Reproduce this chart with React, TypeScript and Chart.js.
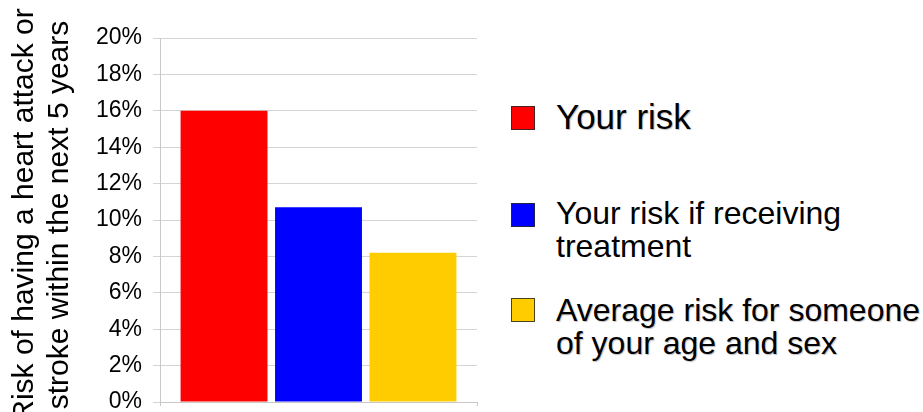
import React, { useEffect, useRef } from "react";
import { Chart, registerables } from "chart.js";

Chart.register(...registerables);

const categories = [""];
const seriesLabels = [
  "Your risk",
  "Your risk if receiving treatment",
  "Average risk for someone of your age and sex",
];
const seriesValues = [16, 10.7, 8.2];
const seriesColors = ["#ff0000", "#0000ff", "#ffcc00"];
const yMin = 0;
const yMax = 20;
const yStep = 2;
const yTitleLines = ["Risk of having a heart attack or", "stroke within the next 5 years"];
const legendLines = [
  ["Your risk"],
  ["Your risk if receiving", "treatment"],
  ["Average risk for someone", "of your age and sex"],
];

const FONT = "'Liberation Sans', Arial, Helvetica, sans-serif";

const legendLayout = [
  { top: 97.4, fontSize: 35, lineHeight: 40, boxTop: 106, shadow: true },
  { top: 197.4, fontSize: 32, lineHeight: 33, boxTop: 202.5, shadow: false },
  { top: 294.4, fontSize: 32, lineHeight: 33, boxTop: 298, shadow: true },
];

const yTitlePlugin = {
  id: "yTitleTwoLines",
  afterDraw(chart: any) {
    const ctx = chart.ctx;
    ctx.save();
    ctx.font = `30px ${FONT}`;
    ctx.fillStyle = "#000000";
    ctx.textAlign = "center";
    ctx.textBaseline = "alphabetic";
    ctx.translate(33, 215);
    ctx.rotate(-Math.PI / 2);
    yTitleLines.forEach((line, i) => ctx.fillText(line, 0, i * 35));
    ctx.restore();
  },
};

export default function App() {
  const canvasRef = useRef<HTMLCanvasElement | null>(null);

  useEffect(() => {
    if (!canvasRef.current) return;
    const chart = new Chart(canvasRef.current, {
      type: "bar",
      data: {
        labels: categories,
        datasets: seriesLabels.map((label, i) => ({
          label,
          data: [seriesValues[i]],
          backgroundColor: seriesColors[i],
          borderWidth: 0,
          categoryPercentage: 0.894,
          barPercentage: 0.92,
        })),
      },
      options: {
        animation: false,
        responsive: true,
        maintainAspectRatio: false,
        layout: { padding: { top: 38, right: 13, left: 0, bottom: 0 } },
        plugins: {
          legend: { display: false },
          tooltip: { enabled: false },
          title: { display: false },
        },
        scales: {
          x: {
            ticks: { display: false },
            grid: {
              drawOnChartArea: false,
              drawTicks: true,
              tickLength: 4,
              color: "#c8c8c8",
            },
            border: { color: "#c8c8c8" },
            afterFit(scale: any) {
              scale.height = 10;
            },
          },
          y: {
            min: yMin,
            max: yMax,
            ticks: {
              stepSize: yStep,
              padding: 11,
              color: "#000000",
              font: { family: FONT, size: 23 },
              callback: (v: any) => `${v}%`,
            },
            grid: {
              color: "#d4d4d4",
              tickLength: 7,
              drawTicks: true,
            },
            border: { color: "#c8c8c8" },
            afterFit(scale: any) {
              scale.width = 160;
              scale.paddingBottom = 0;
              scale.paddingTop = 0;
            },
          },
        },
      },
      plugins: [yTitlePlugin],
    });
    return () => chart.destroy();
  }, []);

  return (
    <div
      style={{
        position: "fixed",
        left: 0,
        top: 0,
        width: 923,
        height: 412,
        background: "#ffffff",
        fontFamily: FONT,
        overflow: "hidden",
      }}
    >
      <div style={{ position: "absolute", left: 0, top: 0, width: 490, height: 412 }}>
        <canvas ref={canvasRef} />
      </div>
      {legendLines.map((lines, i) => {
        const l = legendLayout[i];
        return (
          <React.Fragment key={i}>
            <div
              style={{
                position: "absolute",
                left: 511,
                top: l.boxTop,
                width: 24,
                height: 24,
                boxSizing: "border-box",
                background: seriesColors[i],
                border: "1px solid rgba(40,40,40,0.85)",
              }}
            />
            <div
              style={{
                position: "absolute",
                left: 556,
                top: l.top,
                fontSize: l.fontSize,
                lineHeight: `${l.lineHeight}px`,
                color: "#000000",
                whiteSpace: "nowrap",
                textShadow: l.shadow ? "1px 1px 1px rgba(0,0,0,0.25)" : "none",
              }}
            >
              {lines.map((t, j) => (
                <div key={j}>{t}</div>
              ))}
            </div>
          </React.Fragment>
        );
      })}
    </div>
  );
}
